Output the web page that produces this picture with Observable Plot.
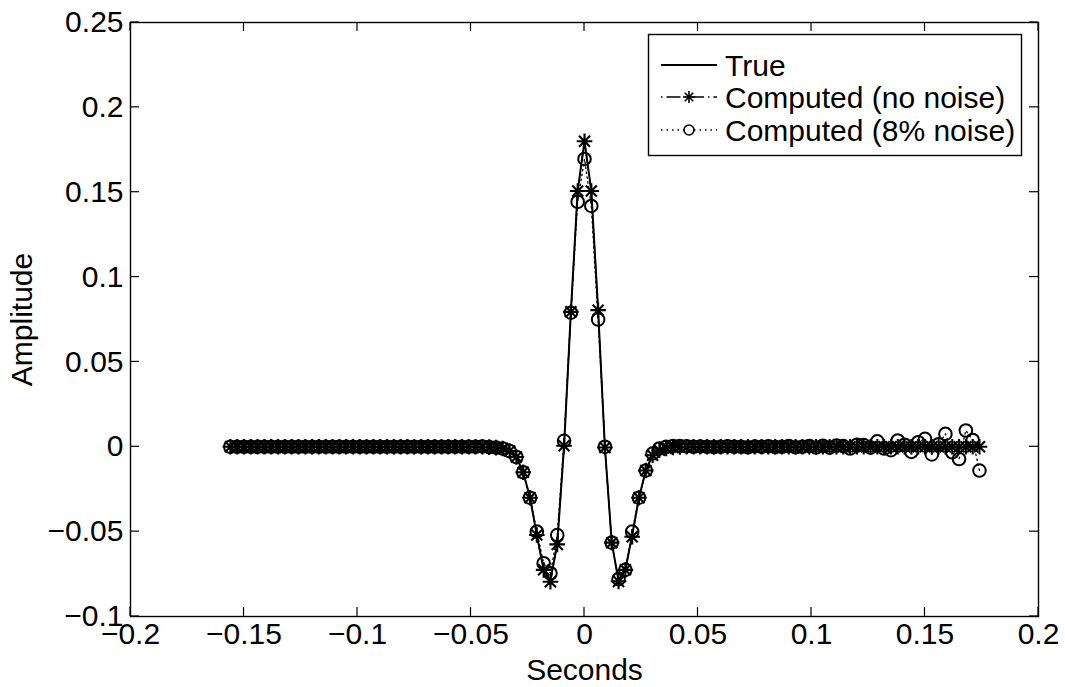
<!DOCTYPE html>
<html>
<head>
<meta charset="utf-8">
<script src="https://cdn.jsdelivr.net/npm/d3@7"></script>
<script src="https://cdn.jsdelivr.net/npm/@observablehq/plot@0.6"></script>
<style>
  html, body { margin: 0; padding: 0; background: #fff; }
  #chart { position: relative; width: 1065px; height: 687px; }
</style>
</head>
<body>
<div id="chart"></div>
<script>
// ---- data ----
const seconds = [
  -0.156,-0.153,-0.150,-0.147,-0.144,-0.141,-0.138,-0.135,-0.132,-0.129,
  -0.126,-0.123,-0.120,-0.117,-0.114,-0.111,-0.108,-0.105,-0.102,-0.099,
  -0.096,-0.093,-0.090,-0.087,-0.084,-0.081,-0.078,-0.075,-0.072,-0.069,
  -0.066,-0.063,-0.060,-0.057,-0.054,-0.051,-0.048,-0.045,
  -0.042,-0.039,-0.036,-0.033,-0.030,-0.027,-0.024,-0.021,-0.018,-0.015,
  -0.012,-0.009,-0.006,-0.003,0.000,0.003,0.006,0.009,0.012,0.015,
  0.018,0.021,0.024,0.027,0.030,0.033,0.036,0.039,0.042,0.045,
  0.048,0.051,0.054,0.057,0.060,0.063,0.066,0.069,0.072,0.075,
  0.078,0.081,0.084,0.087,0.090,0.093,0.096,0.099,0.102,0.105,
  0.108,0.111,0.114,0.117,0.120,0.123,0.126,0.129,0.132,0.135,
  0.138,0.141,0.144,0.147,0.150,0.153,0.156,0.159,0.162,0.165,
  0.168,0.171,0.174
];
const trueAmp = [
  0,0,0,0,0,0,0,0,0,0,
  0,0,0,0,0,0,0,0,0,0,
  0,0,0,0,0,0,0,0,0,0,
  0,0,0,0,0,0,0,0,
  -0.0002,-0.0005,-0.001,-0.0025,-0.006,-0.015,-0.030,-0.052,-0.0725,-0.079,
  -0.057,0.0005,0.0795,0.151,0.180,0.151,0.0805,-0.0004,-0.0565,-0.079,
  -0.0725,-0.052,-0.030,-0.014,-0.005,-0.002,-0.001,-0.0004,-0.0001,0,
  0,0,0,0,0,0,0,0,0,0,
  0,0,0,0,0,0,0,0,0,0,
  0,0,0,0,0,0,0,0,0,0,
  0,0,0,0,0,0,0,0,0,0,
  0,0,0
];
const computedNoNoise = [
  0,0,0,0,0,0,0,0,0,0,
  0,0,0,0,0,0,0,0,0,0,
  0,0,0,0,0,0,0,0,0,0,
  0,0,0,0,0,0,0,0,
  -0.0002,-0.0005,-0.001,-0.0025,-0.006,-0.015,-0.030,-0.052,-0.0725,-0.0795,
  -0.0575,0.0006,0.0795,0.1507,0.180,0.1507,0.0805,-0.0004,-0.0565,-0.0793,
  -0.0725,-0.053,-0.030,-0.014,-0.005,-0.002,-0.001,-0.0004,-0.0001,0,
  0,0,0,0,0,0,0,0,0,0,
  0,0,0,0,0,0,0,0,0,0,
  0,0,0,0,0,0,0,0,0,0,
  0,0,0,0,0,0,0,0,0,0,
  0,0,0
];
const computedNoise = [
  0,0,0,0,0,0,0,0,0,0,
  0,0,0,0,0,0,0,0,0,0,
  0,0,0,0,0,0,0,0,0,0,
  0,0,0,0,0,0,0,0.0002,
  -0.0002,-0.0005,-0.001,-0.0025,-0.006,-0.015,-0.030,-0.050,-0.0686,-0.0745,
  -0.052,0.0035,0.079,0.1444,0.1696,0.1419,0.075,0.0,-0.0565,-0.078,
  -0.0725,-0.050,-0.030,-0.014,-0.004,-0.001,0,0.0005,0.0005,0.0003,
  0,0.0002,0,-0.0002,0,0.0003,0,0,-0.0003,0.0002,
  0,0.0003,-0.0002,0,0.0004,-0.0003,0,0.0005,-0.0004,0.0006,
  -0.0005,0.0008,0.0004,-0.001,0.0012,0.001,-0.0005,0.0032,-0.001,-0.002,
  0.0037,0.0012,-0.003,0.0027,0.0047,-0.0045,0.0015,0.0076,-0.0032,-0.0072,
  0.0096,0.004,-0.014
];
const xTicks = [-0.2,-0.15,-0.1,-0.05,0,0.05,0.1,0.15,0.2];
const yTicks = [-0.1,-0.05,0,0.05,0.1,0.15,0.2,0.25];
const legendLabels = ["True","Computed (no noise)","Computed (8% noise)"];

// ---- build rows ----
const rowsTrue = seconds.map((t,i)=>({t, a: trueAmp[i]}));
const rowsNN = seconds.map((t,i)=>({t, a: computedNoNoise[i]}));
const rowsN = seconds.map((t,i)=>({t, a: computedNoise[i]}));

const fmt = d => (d < 0 ? "\u2212" : "") + String(Math.abs(d));

// MATLAB-style 8-ray star marker
const star8 = {
  draw(ctx, size) {
    const r = Math.sqrt(size / Math.PI);
    const d = r * Math.SQRT1_2;
    ctx.moveTo(-r, 0); ctx.lineTo(r, 0);
    ctx.moveTo(0, -r); ctx.lineTo(0, r);
    ctx.moveTo(-d, -d); ctx.lineTo(d, d);
    ctx.moveTo(-d, d); ctx.lineTo(d, -d);
  }
};

const FONT = "'Liberation Sans', Arial, Helvetica, sans-serif";

const plot = Plot.plot({
  width: 1065,
  height: 687,
  marginLeft: 130,
  marginRight: 27,
  marginTop: 22,
  marginBottom: 71,
  style: { fontFamily: FONT, fontSize: "30px", color: "black", background: "white", overflow: "visible" },
  x: { domain: [-0.2, 0.2] },
  y: { domain: [-0.1, 0.25] },
  marks: [
    Plot.frame({ stroke: "black", strokeWidth: 1.4 }),
    Plot.axisX({ anchor: "bottom", ticks: xTicks, tickFormat: fmt, tickSize: 0, tickPadding: 6,
                 label: "Seconds", labelAnchor: "center", labelArrow: "none", labelOffset: 63 }),
    Plot.axisY({ anchor: "left", ticks: yTicks, tickFormat: fmt, tickSize: 0, tickPadding: 7,
                 label: "Amplitude", labelAnchor: "center", labelArrow: "none", labelOffset: 120 }),
    Plot.line(rowsN, { x: "t", y: "a", stroke: "black", strokeWidth: 1.3, strokeDasharray: "1.5,3.5" }),
    Plot.line(rowsNN, { x: "t", y: "a", stroke: "black", strokeWidth: 1.3, strokeDasharray: "10,4,2,4" }),
    Plot.line(rowsTrue, { x: "t", y: "a", stroke: "black", strokeWidth: 2 }),
    Plot.dot(rowsNN, { x: "t", y: "a", symbol: star8, r: 7.8, stroke: "black", fill: "none", strokeWidth: 2.1 }),
    Plot.dot(rowsN, { x: "t", y: "a", symbol: "circle", r: 6.3, stroke: "black", fill: "none", strokeWidth: 2 })
  ]
});

document.getElementById("chart").appendChild(plot);

// ---- inward ticks on all four sides, placed with the plot's own scales ----
const sx = plot.scale("x"), sy = plot.scale("y");
const svg = d3.select(plot);
const X0 = sx.apply(-0.2), X1 = sx.apply(0.2), Y0 = sy.apply(-0.1), Y1 = sy.apply(0.25);
const tk = svg.append("g").attr("stroke", "black").attr("stroke-width", 1.2);
const TL = 9;
xTicks.forEach(v => {
  const px = sx.apply(v);
  tk.append("line").attr("x1", px).attr("x2", px).attr("y1", Y0).attr("y2", Y0 - TL);
  tk.append("line").attr("x1", px).attr("x2", px).attr("y1", Y1).attr("y2", Y1 + TL);
});
yTicks.forEach(v => {
  const py = sy.apply(v);
  tk.append("line").attr("x1", X0).attr("x2", X0 + TL).attr("y1", py).attr("y2", py);
  tk.append("line").attr("x1", X1).attr("x2", X1 - TL).attr("y1", py).attr("y2", py);
});

// ---- legend (inside the axes, top right) ----
const lg = svg.append("g").attr("font-family", FONT).attr("font-size", 30).attr("text-anchor", "start");
lg.append("rect").attr("x", 648.5).attr("y", 34.5).attr("width", 373).attr("height", 121)
  .attr("fill", "white").attr("stroke", "black").attr("stroke-width", 1.4);
const rowY = [65, 97, 130];
const dashes = [null, "1.5,4,14,4", "1.5,4"];
legendLabels.forEach((lab, i) => {
  const y = rowY[i];
  lg.append("line").attr("x1", 661).attr("x2", 717).attr("y1", y).attr("y2", y)
    .attr("stroke", "black").attr("stroke-width", i === 0 ? 1.8 : 1.3)
    .attr("stroke-dasharray", dashes[i]);
  if (i === 1) {
    const p = d3.path(); star8.draw(p, Math.PI * 6 * 6);
    lg.append("path").attr("d", p.toString()).attr("transform", `translate(689,${y})`)
      .attr("stroke", "black").attr("fill", "none").attr("stroke-width", 1.6);
  }
  if (i === 2) {
    lg.append("circle").attr("cx", 689).attr("cy", y).attr("r", 5)
      .attr("stroke", "black").attr("fill", "white").attr("stroke-width", 1.6);
  }
  lg.append("text").attr("x", 725).attr("y", y).attr("dy", "0.36em").attr("text-anchor", "start").text(lab);
});
</script>
</body>
</html>
